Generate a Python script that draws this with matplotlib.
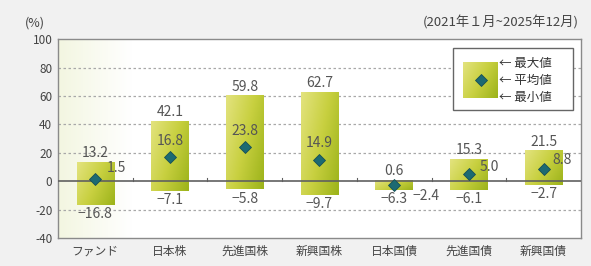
import numpy as np
import matplotlib
matplotlib.use("Agg")
import matplotlib.pyplot as plt
from matplotlib.colors import LinearSegmentedColormap
from matplotlib.patches import Rectangle

plt.rcParams['font.family'] = ['Noto Sans CJK JP', 'DejaVu Sans']

categories = ["ファンド", "日本株", "先進国株", "新興国株", "日本国債", "先進国債", "新興国債"]
max_vals = [13.2, 42.1, 59.8, 62.7, 0.6, 15.3, 21.5]
mean_vals = [1.5, 16.8, 23.8, 14.9, -2.4, 5.0, 8.8]
min_vals = [-16.8, -7.1, -5.8, -9.7, -6.3, -6.1, -2.7]

# where the mean label sits relative to the diamond (offset points, ha, va)
mean_label_pos = [(8, 3, 'left', 'bottom'), (0, 7, 'center', 'bottom'), (0, 7, 'center', 'bottom'),
                  (0, 7, 'center', 'bottom'), (13, -3, 'left', 'top'), (8, 0, 'left', 'bottom'),
                  (6, 1, 'left', 'bottom')]

grad = LinearSegmentedColormap.from_list("g", ["#e3e37e", "#c8d040", "#9cb31a"])
gy, gx = np.mgrid[0:1:50j, 0:1:50j]
grad_img = 0.65 * gx + 0.35 * gy

fig = plt.figure(figsize=(5.91, 2.66), dpi=100, facecolor="#f1f1f1")
ax = fig.add_axes([0.098, 0.105, 0.885, 0.748])
ax.set_facecolor("white")

x = np.arange(len(categories))
ax.set_xlim(-0.5, len(categories) - 0.5)
ax.set_ylim(-40, 100)

# light band behind the fund column
band = np.tile(np.linspace(1, 0, 50), (2, 1))
band_cmap = LinearSegmentedColormap.from_list("b", ["#ffffff", "#f3f6e1"])
ax.imshow(band, extent=(-0.5, 0.5, -40, 100), aspect='auto', cmap=band_cmap, zorder=0.5)

for yv in [80, 60, 40, 20, -20]:
    ax.axhline(yv, color="#a8a8a8", lw=0.9, ls=(0, (2, 2)), zorder=1)
ax.axhline(0, color="#606060", lw=1.2, zorder=3)
for b in x[:-1] + 0.5:
    ax.plot([b, b], [0, 2.5], color="#606060", lw=0.8, zorder=3)

w = 0.5
for i in x:
    ax.imshow(grad_img, extent=(i - w / 2, i + w / 2, min_vals[i], max_vals[i]),
              aspect='auto', cmap=grad, origin='upper', zorder=2)
    ax.annotate(f"{max_vals[i]:.1f}", (i, max_vals[i]), xytext=(0, 1.5), textcoords='offset points',
                ha='center', va='bottom', fontsize=10, color="#555555", zorder=5)
    ax.annotate(f"{min_vals[i]:.1f}".replace("-", "−"), (i, min_vals[i]), xytext=(0, -1.5),
                textcoords='offset points', ha='center', va='top', fontsize=10, color="#555555", zorder=5)
    dx, dy, ha, va = mean_label_pos[i]
    ax.annotate(f"{mean_vals[i]:.1f}".replace("-", "−"), (i, mean_vals[i]), xytext=(dx, dy),
                textcoords='offset points', ha=ha, va=va, fontsize=10, color="#555555", zorder=5)

ax.plot(x, mean_vals, ls='none', marker='D', ms=6.5, color="#1c6a72", mec="#164f55", mew=0.6, zorder=4)

ax.set_xticks(x)
ax.set_xticklabels(categories, fontsize=8.5, color="#444444")
ax.set_yticks(range(-40, 101, 20))
ax.set_yticklabels([str(v) for v in range(-40, 101, 20)], fontsize=8.5, color="#444444")
ax.tick_params(length=0, pad=4)
ax.tick_params(axis='x', pad=5)
for s in ax.spines.values():
    s.set_color("#8a8a8a")
    s.set_linewidth(1.0)

# legend
ax.add_patch(Rectangle((0.755, 0.643), 0.23, 0.312, transform=ax.transAxes, facecolor="white",
                       edgecolor="#666666", lw=1.0, zorder=6))
lax = fig.add_axes([0.098 + 0.885 * 0.775, 0.105 + 0.748 * 0.705, 0.885 * 0.066, 0.748 * 0.18])
lax.imshow(grad_img, aspect='auto', cmap=grad, origin='upper', extent=(0, 1, 0, 1))
lax.plot([0.5], [0.5], marker='D', ms=6.5, color="#1c6a72", mec="#164f55", mew=0.6)
lax.set_xlim(0, 1)
lax.set_ylim(0, 1)
lax.axis('off')
for yy, t in zip([0.875, 0.79, 0.705], ["最大値", "平均値", "最小値"]):
    ax.text(0.843, yy, "← " + t, transform=ax.transAxes, fontsize=9, color="#333333",
            va='center', ha='left', zorder=7)

fig.text(0.042, 0.915, "(%)", fontsize=9, color="#444444", ha='left', va='center')
fig.text(0.98, 0.915, "(2021年１月~2025年12月)", fontsize=9.5, color="#444444", ha='right', va='center')

fig.savefig("out.png", dpi=100, facecolor=fig.get_facecolor())
